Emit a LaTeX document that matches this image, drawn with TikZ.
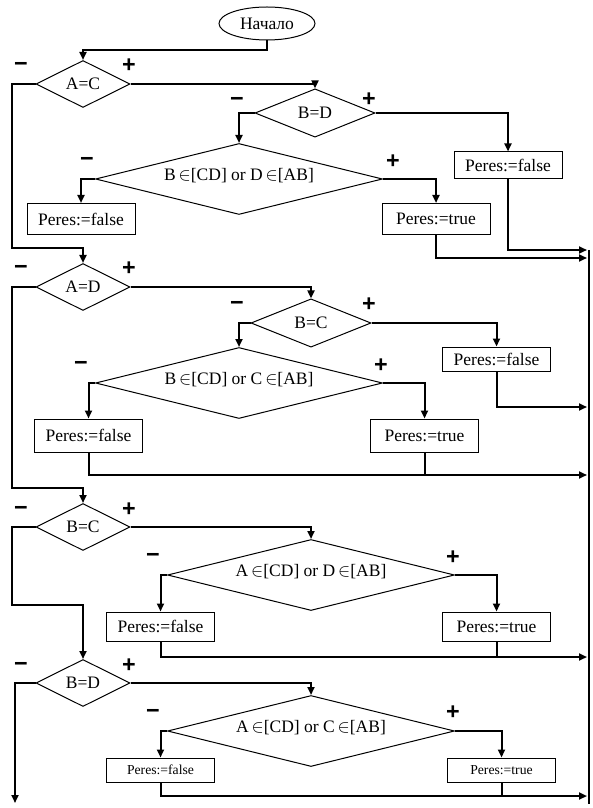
\documentclass[tikz,border=0pt]{standalone}
\usepackage{fontspec}
\setmainfont{Liberation Serif}
\newfontfamily\signfont{Liberation Sans}
\usetikzlibrary{calc, shapes.geometric}
\usetikzlibrary{arrows.meta}
\tikzset{>={Triangle[width=4.2pt,length=4.8pt]}}

\begin{document}
\begin{tikzpicture}[
    x = 0.6pt, y = -0.6pt,
    font = \fontsize{10.5}{12}\selectfont,
    shape line/.style = {draw, line width=0.6pt, inner sep=0pt},
    cond/.style = {shape line, diamond, aspect=2, minimum width=56.4pt, minimum height=28.2pt},
    test/.style = {shape line, diamond, aspect=2.5, minimum width=72pt, minimum height=29pt},
    wide/.style = {shape line, diamond, aspect=4, minimum width=172.2pt, minimum height=42.6pt,
        text height=7pt, text depth=5pt},
    res/.style = {shape line, rectangle, minimum width=64.8pt},
    small/.style = {font=\fontsize{8.2}{10}\selectfont},
    flow/.style = {line width=1.2pt, ->},
    link/.style = {line width=1.2pt},
    sign/.style = {font=\signfont\bfseries\fontsize{14}{14}\selectfont, inner sep=0pt}
  ]
  \useasboundingbox (0,0) rectangle (593,808);

  \node[shape line, ellipse, minimum width=57.6pt, minimum height=19.8pt] (start) at (267,23.5) {Начало};

  % main column of tests
  \foreach \name/\y/\txt in {ac/84/A=C, ad/287/A=D, bc3/527/B=C, bd4/683/B=D}
    \node[cond] (\name) at (83,\y) {\txt};

  % first block
  \node[test] (bd) at (315,113) {B=D};
  \node[wide] (q1) at (239,179) {B\,$\in$[CD] or D\,$\in$[AB]};
  \node[res, minimum height=16.2pt] (f1) at (508,165.5) {Peres:=false};
  \node[res, minimum height=18.6pt] (f2) at (81,219) {Peres:=false};
  \node[res, minimum height=18.6pt] (t1) at (436,219) {Peres:=true};

  % second block
  \node[test] (bc) at (311,323) {B=C};
  \node[wide] (q2) at (239,383) {B\,$\in$[CD] or C\,$\in$[AB]};
  \node[res, minimum height=14.4pt] (f3) at (496.5,359) {Peres:=false};
  \node[res, minimum height=19.8pt] (f4) at (88.5,435.5) {Peres:=false};
  \node[res, minimum height=19.8pt] (t2) at (424.5,435.5) {Peres:=true};

  % third block
  \node[wide] (q3) at (311,575) {A\,$\in$[CD] or D\,$\in$[AB]};
  \node[res, minimum height=17.4pt] (f5) at (160.5,626.5) {Peres:=false};
  \node[res, minimum height=17.4pt] (t3) at (496.5,626.5) {Peres:=true};

  % fourth block
  \node[wide] (q4) at (311,731) {A\,$\in$[CD] or C\,$\in$[AB]};
  \node[res, small, minimum height=14.4pt] (f6) at (160.5,770) {Peres:=false};
  \node[res, small, minimum height=14.4pt] (t4) at (501.5,770) {Peres:=true};

  % signs
  \foreach \x/\y [count=\i] in {21/67, 237/102, 87/162, 21/270, 237/306,
      81/366, 21/511, 153/558, 21/667, 153/714}
    \node[sign] (minus\i) at (\x,\y) {−};
  \foreach \x/\y [count=\i] in {129/66, 369/100, 393/162, 129/269, 369/305,
      381/366, 129/510, 453/558, 129/666, 453/713}
    \node[sign] (plus\i) at (\x,\y) {+};

  % bus on the right
  \coordinate (b1) at (587,250);
  \coordinate (b2) at (587,258);
  \coordinate (b3) at (587,407);
  \coordinate (b4) at (587,475);
  \coordinate (b5) at (587,657);
  \coordinate (b6) at (587,796);
  \coordinate (bustop) at (589,250);
  \coordinate (busend) at (589,804);
  \coordinate (out) at (15,803);
  \draw[link] (bustop) -- (busend);

  % left column
  \draw[flow] (start.south) -- ++(0,10) -| (ac.north);
  \draw[flow] (ac.west) -- ++(-24,0) |- ($(ad.north)+(0,-15)$) -- (ad.north);
  \draw[flow] (ad.west) -- ++(-24,0) |- ($(bc3.north)+(0,-15)$) -- (bc3.north);
  \draw[flow] (bc3.west) -- ++(-24,0) |- ($(bd4.north)+(0,-54)$) -- (bd4.north);
  \draw[flow] (bd4.west) -| (out);

  % first block
  \draw[flow] (ac.east) -| (bd.north);
  \draw[flow] (bd.west) -| (q1.north);
  \draw[flow] (bd.east) -| (f1.north);
  \draw[flow] (q1.west) -| (f2.north);
  \draw[flow] (q1.east) -| (t1.north);
  \draw[flow] (f1.south) |- (b1);
  \draw[flow] (t1.south) |- (b2);

  % second block
  \draw[flow] (ad.east) -| (bc.north);
  \draw[flow] (bc.west) -| (q2.north);
  \draw[flow] (bc.east) -| (f3.north);
  \draw[flow] (q2.west) -| (f4.north);
  \draw[flow] (q2.east) -| (t2.north);
  \draw[flow] (f3.south) |- (b3);
  \draw[flow] (f4.south) |- (b4);
  \draw[link] (t2.south) -- (t2.south |- b4);

  % third block
  \draw[flow] (bc3.east) -| (q3.north);
  \draw[flow] (q3.west) -| (f5.north);
  \draw[flow] (q3.east) -| (t3.north);
  \draw[flow] (f5.south) |- (b5);
  \draw[link] (t3.south) -- (t3.south |- b5);

  % fourth block
  \draw[flow] (bd4.east) -| (q4.north);
  \draw[flow] (q4.west) -| (f6.north);
  \draw[flow] (q4.east) -| (t4.north);
  \draw[flow] (f6.south) |- (b6);
  \draw[link] (t4.south) -- (t4.south |- b6);
\end{tikzpicture}
\end{document}
